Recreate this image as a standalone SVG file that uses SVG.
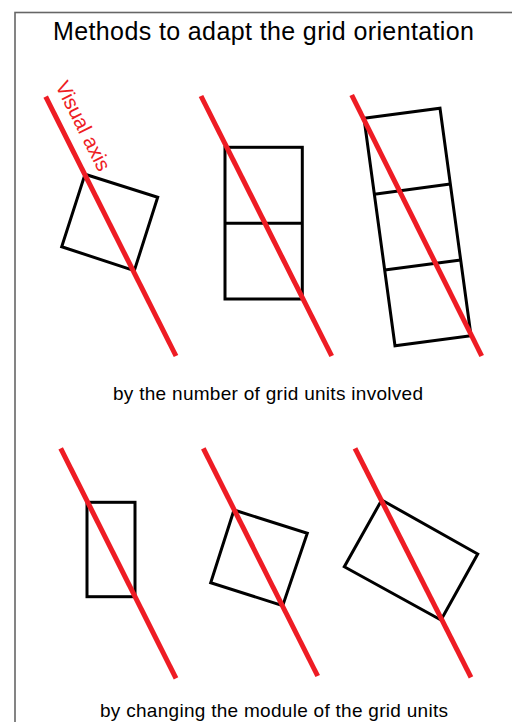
<svg xmlns="http://www.w3.org/2000/svg" width="512" height="722" viewBox="0 0 512 722">
<style>
.grid{fill:none;stroke:#000;stroke-width:3;stroke-linejoin:miter}
.axis{stroke:#ee1c24;stroke-width:5;stroke-linecap:butt}
.t{font-family:"Liberation Sans",Arial,sans-serif;fill:#000}
</style>
<rect x="0" y="0" width="512" height="722" fill="#fff"/>
<rect x="15" y="12.5" width="520" height="730" fill="none" stroke="#666" stroke-width="1.6"/>
<text class="t" x="53" y="39.5" font-size="25" textLength="421" lengthAdjust="spacing">Methods to adapt the grid orientation</text>

<g id="p1">
<polygon class="grid" points="85,174.3 157.7,197.3 134.3,270.7 61.7,246.7"/>
<line class="axis" x1="45.7" y1="96.7" x2="176" y2="356"/>
<text class="t" font-size="20.5" style="fill:#ee1c24" transform="translate(55,85.5) rotate(63.3)">Visual axis</text>
</g>
<g id="p2">
<rect class="grid" x="225" y="147.3" width="77.3" height="151.7"/>
<line class="grid" x1="225" y1="223.3" x2="302.3" y2="223.3"/>
<line class="axis" x1="201" y1="96" x2="331.7" y2="356"/>
</g>
<g id="p3">
<polygon class="grid" points="364,118.3 440,108.3 471,335.7 395,345.7"/>
<line class="grid" x1="374.3" y1="194.2" x2="450.3" y2="184.1"/>
<line class="grid" x1="384.7" y1="270.1" x2="460.7" y2="260"/>
<line class="axis" x1="351.7" y1="95" x2="481.7" y2="356"/>
</g>
<text class="t" x="113" y="400" font-size="19" textLength="310" lengthAdjust="spacing">by the number of grid units involved</text>

<g id="p4">
<rect class="grid" x="87" y="502.3" width="48" height="94.4"/>
<line class="axis" x1="60.7" y1="448.3" x2="176" y2="678.3"/>
</g>
<g id="p5">
<polygon class="grid" points="234,510 307.3,533.3 282.7,605.7 210.7,582.7"/>
<line class="axis" x1="203.3" y1="448.3" x2="317.7" y2="676"/>
</g>
<g id="p6">
<polygon class="grid" points="381.7,500 477.7,554 441,620 344.3,566.7"/>
<line class="axis" x1="355" y1="448.3" x2="471" y2="677.3"/>
</g>
<text class="t" x="100" y="716.5" font-size="19" textLength="348" lengthAdjust="spacing">by changing the module of the grid units</text>
</svg>
